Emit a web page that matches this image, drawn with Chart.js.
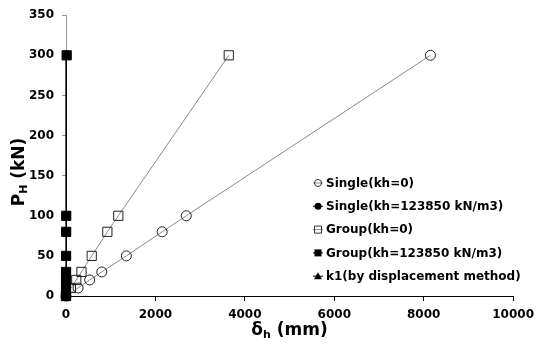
<!DOCTYPE html>
<html>
<head>
<title>PH vs deltah</title>
<script src="https://cdn.jsdelivr.net/npm/chart.js@4.4.0/dist/chart.umd.min.js"></script>
<style>
body { margin:0; background:#fff; }
#wrap { width:541px; height:351px; }
</style>
</head>
<body>
<div id="wrap"><canvas id="myChart"></canvas></div>
<script>
// load steps (kN)
var loads = [0, 10, 20, 30, 50, 80, 100, 300];
// lateral displacement (mm)
var singleFree = [0, 270, 530, 800, 1350, 2150, 2690, 8150];
var singleSoil = [0, 0.5, 1, 1.5, 2.5, 4, 5, 15];
var groupFree = [0, 110, 230, 346, 575, 925, 1170, 3640];
var groupSoil = [0, 0.5, 1, 1.5, 2.5, 4, 5, 15];
var k1Disp = [0, 0.5, 1, 1.5, 2.5, 4, 5, 15];
var xTicks = [0, 2000, 4000, 6000, 8000, 10000];
var yTicks = [0, 50, 100, 150, 200, 250, 300, 350];
var names = ['Single(kh=0)', 'Single(kh=123850 kN/m3)', 'Group(kh=0)', 'Group(kh=123850 kN/m3)', 'k1(by displacement method)'];

function pts(xs) {
  var out = [];
  for (var i = 0; i < xs.length; i++) out.push({x: xs[i], y: loads[i]});
  return out;
}

var FONT = "'DejaVu Sans', Verdana, sans-serif";
var GRAY = '#8a8a8a';

// lower order is painted on top
var ds = [
  {label: names[3], data: pts(groupSoil), borderColor: '#000', backgroundColor: '#000', pointStyle: 'rect', pointRadius: 6.5, order: 1},
  {label: names[1], data: pts(singleSoil), borderColor: '#000', backgroundColor: '#000', pointStyle: 'circle', pointRadius: 4, order: 2},
  {label: names[4], data: pts(k1Disp), borderColor: '#000', backgroundColor: '#000', pointStyle: 'triangle', pointRadius: 4, order: 3},
  {label: names[2], data: pts(groupFree), borderColor: GRAY, backgroundColor: 'rgba(0,0,0,0)', pointBorderColor: '#222', pointStyle: 'rect', pointRadius: 6.5, order: 4},
  {label: names[0], data: pts(singleFree), borderColor: GRAY, backgroundColor: 'rgba(0,0,0,0)', pointBorderColor: '#222', pointStyle: 'circle', pointRadius: 5, order: 5}
];
ds.forEach(function (d) { d.borderWidth = 1; d.pointBorderWidth = 1; d.showLine = true; d.clip = false; d.pointHoverRadius = d.pointRadius; });

var legendRows = [
  {name: names[0], style: 'circle', fill: false, line: GRAY},
  {name: names[1], style: 'circle', fill: true, line: '#000'},
  {name: names[2], style: 'rect', fill: false, line: GRAY},
  {name: names[3], style: 'rect', fill: true, line: '#000'},
  {name: names[4], style: 'triangle', fill: true, line: '#000'}
];

var extras = {
  id: 'extras',
  afterDraw: function (chart) {
    var c = chart.ctx;
    c.save();
    // legend
    var lx = 318, ly = 183;
    c.textBaseline = 'middle';
    c.textAlign = 'left';
    c.font = 'bold 12px ' + FONT;
    legendRows.forEach(function (r, i) {
      var y = ly + i * 23.3;
      c.strokeStyle = r.line;
      c.lineWidth = 1;
      c.beginPath(); c.moveTo(lx - 5, y); c.lineTo(lx + 5, y); c.stroke();
      c.strokeStyle = '#333';
      c.fillStyle = r.fill ? '#000' : 'rgba(0,0,0,0)';
      c.beginPath();
      if (r.style === 'circle') c.arc(lx, y, 3.5, 0, Math.PI * 2);
      else if (r.style === 'rect') c.rect(lx - 3.5, y - 3.5, 7, 7);
      else { c.moveTo(lx, y - 4); c.lineTo(lx + 4, y + 3); c.lineTo(lx - 4, y + 3); c.closePath(); }
      if (r.fill) c.fill(); else c.stroke();
      c.fillStyle = '#000';
      c.fillText(r.name, lx + 8, y + 0.5);
    });
    // x title: delta_h (mm)
    var area = chart.chartArea;
    c.fillStyle = '#000';
    c.textBaseline = 'alphabetic';
    var big = 'bold 17px ' + FONT, small = 'bold 11px ' + FONT;
    c.font = big; var w1 = c.measureText('δ').width;
    c.font = small; var w2 = c.measureText('h').width;
    c.font = big; var w3 = c.measureText(' (mm)').width;
    var x0 = (area.left + area.right) / 2 - (w1 + w2 + w3) / 2, by = 335;
    c.font = big; c.fillText('δ', x0, by);
    c.font = small; c.fillText('h', x0 + w1, by + 3);
    c.font = big; c.fillText(' (mm)', x0 + w1 + w2, by);
    // y title: P_H (kN)
    c.translate(24, 172);
    c.rotate(-Math.PI / 2);
    c.font = big; var v1 = c.measureText('P').width;
    c.font = small; var v2 = c.measureText('H').width;
    c.font = big; var v3 = c.measureText(' (kN)').width;
    var y0 = -(v1 + v2 + v3) / 2;
    c.font = big; c.fillText('P', y0, 0);
    c.font = small; c.fillText('H', y0 + v1, 3);
    c.font = big; c.fillText(' (kN)', y0 + v1 + v2, 0);
    c.restore();
  }
};

var plain = function (v) { return String(v); };

var ctx = document.getElementById('myChart').getContext('2d');
var chart = new Chart(ctx, {
  type: 'scatter',
  data: {datasets: ds},
  options: {
    responsive: true,
    maintainAspectRatio: false,
    animation: false,
    events: [],
    layout: {padding: {top: 14, right: 22, left: 0, bottom: 0}},
    plugins: {legend: {display: false}, tooltip: {enabled: false}},
    scales: {
      x: {
        type: 'linear', min: 0, max: 10000,
        afterBuildTicks: function (s) { s.ticks = xTicks.map(function (v) { return {value: v}; }); },
        afterFit: function (s) { s.height = 55; },
        border: {display: true, color: '#000', width: 1},
        grid: {drawOnChartArea: false, drawTicks: true, tickLength: 5, color: '#000'},
        ticks: {color: '#000', padding: 7, maxRotation: 0, callback: plain, font: {family: FONT, size: 12, weight: 'bold'}}
      },
      y: {
        type: 'linear', min: 0, max: 350,
        afterBuildTicks: function (s) { s.ticks = yTicks.map(function (v) { return {value: v}; }); },
        afterFit: function (s) { s.width = 66; },
        border: {display: true, color: '#999', width: 1},
        grid: {drawOnChartArea: false, drawTicks: true, tickLength: 4, color: '#999'},
        ticks: {color: '#000', padding: 8, callback: plain, font: {family: FONT, size: 12, weight: 'bold'}}
      }
    }
  },
  plugins: [extras]
});
</script>
</body>
</html>
